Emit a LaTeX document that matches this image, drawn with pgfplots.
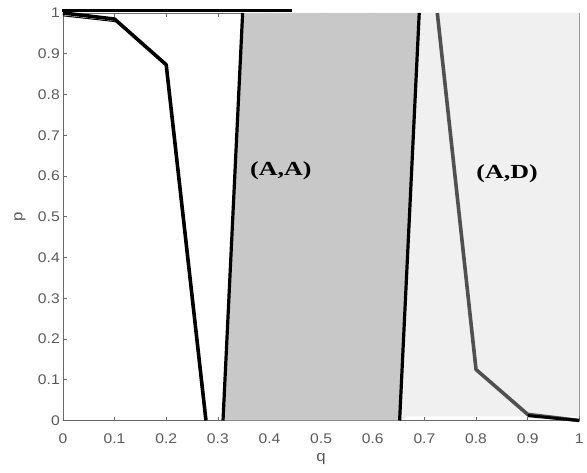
\documentclass[border=0pt]{standalone}
\usepackage{pgfplots}
\pgfplotsset{compat=1.18}
\usepackage{fontspec}
\setmainfont{Liberation Serif}
\newfontfamily\tickfont[FakeStretch=1.12]{Liberation Sans}
\newfontfamily\labfont[FakeStretch=1.3]{Liberation Serif}
\definecolor{darkfill}{HTML}{C8C8C8}
\definecolor{lightfill}{HTML}{F0F0F0}
\definecolor{curvegray}{HTML}{505050}
\definecolor{axisgray}{HTML}{6A6A6A}
\definecolor{labelgray}{HTML}{5A5A5A}
\begin{document}
\begin{tikzpicture}
\begin{axis}[
  scale only axis,
  width=517pt, height=408pt,
  xmin=0, xmax=1, ymin=0, ymax=1,
  xtick={0,0.1,...,1}, ytick={0,0.1,...,1},
  xticklabels={0,0.1,0.2,0.3,0.4,0.5,0.6,0.7,0.8,0.9,1},
  yticklabels={0,0.1,0.2,0.3,0.4,0.5,0.6,0.7,0.8,0.9,1},
  tick align=inside,
  major tick length=4pt,
  every tick/.style={axisgray, line width=0.6pt},
  axis line style={axisgray, line width=0.8pt},
  ticklabel style={font=\tickfont\fontsize{14}{14}\selectfont, text=labelgray},
  xticklabel style={anchor=center, yshift=-18pt},
  yticklabel style={anchor=east, inner sep=0pt, xshift=-3pt},
  xlabel={q}, ylabel={p},
  every axis x label/.style={at={(axis description cs:0.5,0)}, yshift=-39pt, anchor=center},
  every axis y label/.style={at={(axis description cs:0,0.5)}, xshift=-43pt, rotate=90, anchor=center},
  label style={font=\tickfont\fontsize{15}{15}\selectfont, text=labelgray},
  clip=false,
]
\addplot[fill=lightfill, draw=none] coordinates {(0.652,0) (0.69,1) (1,1) (1,0.01) (0.67,0.01)} -- cycle;
\addplot[fill=darkfill, draw=none] coordinates {(0.31,0) (0.348,1) (0.69,1) (0.652,0)} -- cycle;
\addplot[black, line width=3.6pt, line join=round] coordinates {(0,1) (0.1,0.985) (0.2,0.873) (0.277,0)};
\addplot[black, line width=1pt] coordinates {(0,0.993) (0.1,0.979)};
\addplot[black, line width=3.2pt] coordinates {(0.31,0) (0.348,1)};
\addplot[black, line width=3.2pt] coordinates {(0.652,0) (0.69,1)};
\addplot[curvegray, line width=3.6pt, line join=round] coordinates {(0.725,1) (0.8,0.125) (0.9,0.015) (1,0.0)};
\addplot[black, line width=3pt] coordinates {(0.9,0.012) (1,0.0)};
\addplot[black, line width=3pt] coordinates {(-0.002,1.006) (0.443,1.006)};
\node[font=\labfont\bfseries\fontsize{20}{20}\selectfont] at (axis cs:0.422,0.613) {(A,A)};
\node[font=\labfont\bfseries\fontsize{20}{20}\selectfont] at (axis cs:0.86,0.605) {(A,D)};
\end{axis}
\path ([shift={(-63pt,-52pt)}]current axis.south west) rectangle ([shift={(7pt,13pt)}]current axis.north east);
\end{tikzpicture}
\end{document}
